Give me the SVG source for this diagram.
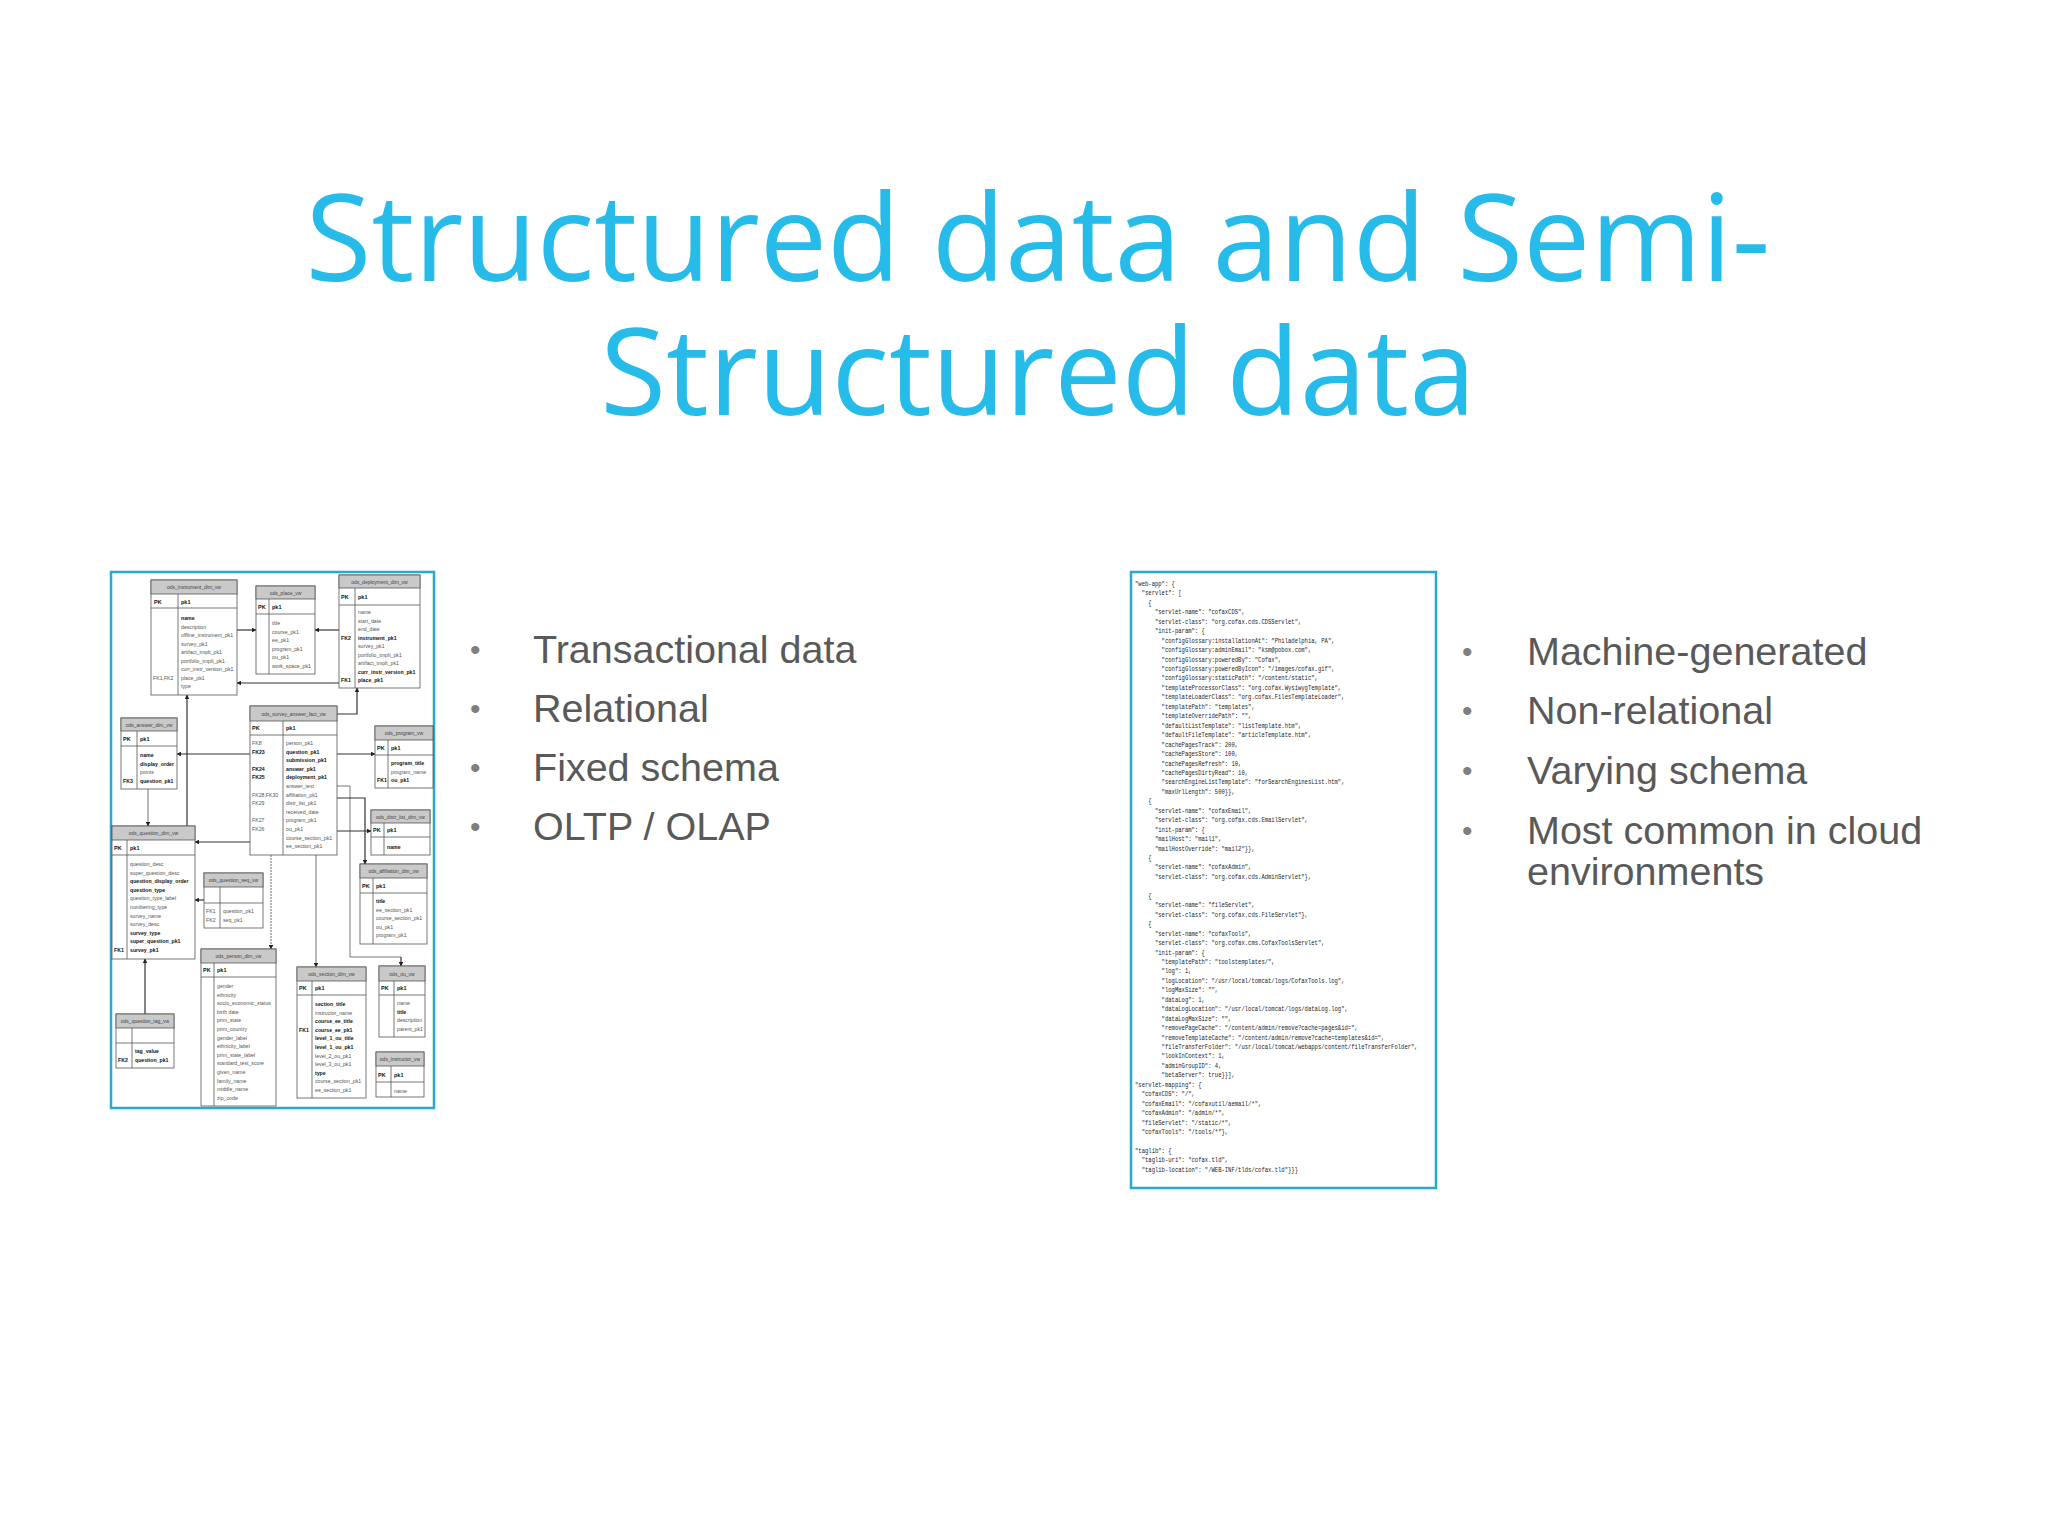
<svg xmlns="http://www.w3.org/2000/svg" width="2048" height="1536" viewBox="0 0 2048 1536">
<style>
.title{font-family:"Open Sans","Liberation Sans",sans-serif;font-size:120px;fill:#27bbe9;text-anchor:middle}
.bul{font-family:"Liberation Sans",Arial,sans-serif;font-size:39.5px;fill:#595959}
.dot{font-family:"Liberation Sans",Arial,sans-serif;font-size:30px;fill:#7f7f7f}
.frame{fill:#fff;stroke:#27a9d0;stroke-width:2.5}
.tb{fill:#fff;stroke:#555;stroke-width:0.8}
.th{fill:#c9c9c9;stroke:#555;stroke-width:0.8}
.ln{stroke:#555;stroke-width:0.8;fill:none}
.hd{font-family:"Liberation Sans",Arial,sans-serif;font-size:5px;fill:#444;text-anchor:middle}
.f{font-family:"Liberation Sans",Arial,sans-serif;font-size:5.2px;fill:#555}
.b{font-weight:bold;fill:#111}
.pk{font-family:"Liberation Sans",Arial,sans-serif;font-size:5.5px;font-weight:bold;fill:#111}
.c{stroke:#333;stroke-width:1.2;fill:none;marker-end:url(#ah)}
.cg{stroke:#888;stroke-width:1.2;fill:none;marker-end:url(#ah)}
.js{font-family:"Liberation Mono","DejaVu Sans Mono",monospace;font-size:7.4px;fill:#222}
</style>
<defs>
<marker id="ah" viewBox="0 0 10 10" refX="9" refY="5" markerWidth="4" markerHeight="4" orient="auto"><path d="M0,0L10,5L0,10z" fill="#222"/></marker>
</defs>
<rect width="2048" height="1536" fill="#fff"/>
<text class="title" x="1038" y="281">Structured data and Semi-</text>
<text class="title" x="1038" y="415">Structured data</text>

<g id="bullets-left">
<text class="dot" x="470" y="660">•</text><text class="bul" x="533" y="663">Transactional data</text>
<text class="dot" x="470" y="719">•</text><text class="bul" x="533" y="722">Relational</text>
<text class="dot" x="470" y="778">•</text><text class="bul" x="533" y="781">Fixed schema</text>
<text class="dot" x="470" y="837">•</text><text class="bul" x="533" y="840">OLTP / OLAP</text>
</g>
<g id="bullets-right">
<text class="dot" x="1462" y="662">•</text><text class="bul" x="1527" y="665">Machine-generated</text>
<text class="dot" x="1462" y="721">•</text><text class="bul" x="1527" y="724">Non-relational</text>
<text class="dot" x="1462" y="781">•</text><text class="bul" x="1527" y="784">Varying schema</text>
<text class="dot" x="1462" y="841">•</text><text class="bul" x="1527" y="844">Most common in cloud</text>
<text class="bul" x="1527" y="885">environments</text>
</g>

<g id="er-diagram">
<rect class="frame" x="111" y="572" width="323" height="536"/>
<g id="connectors">
<path class="c" d="M237,630H256"/>
<path class="c" d="M339,630H315"/>
<path class="c" d="M339,683H237"/>
<path class="c" d="M337,714H357V688"/>
<path class="c" d="M250,754H177"/>
<path class="c" d="M187,826V695"/>
<path class="c" d="M337,754H375"/>
<path class="cg" d="M148,789V826"/>
<path class="c" d="M250,842H195"/>
<path class="ln" d="M337,786H350V957H401"/><path class="c" d="M401,957V966"/>
<path class="c" d="M337,798H365V864"/>
<path class="c" d="M337,831H371"/>
<path class="cg" d="M271,855V949" stroke-dasharray="2,1"/>
<path class="cg" d="M316,855V967"/>
<path class="c" d="M204,900H195"/>
<path class="c" d="M145,1014V959"/>
</g>

<g id="t-instrument">
<rect class="tb" x="151" y="580" width="86" height="115"/><rect class="th" x="151" y="580" width="86" height="14"/>
<text class="hd" x="194" y="589">ods_instrument_dim_vw</text>
<path class="ln" d="M151,608H237M178,594V695"/>
<text class="pk" x="154" y="604">PK</text><text class="pk" x="181" y="604">pk1</text>
<text class="f" x="181" y="620"><tspan class="b">name</tspan><tspan x="181" dy="8.5">description</tspan><tspan x="181" dy="8.5">offline_instrument_pk1</tspan><tspan x="181" dy="8.5">survey_pk1</tspan><tspan x="181" dy="8.5">artifact_tmplt_pk1</tspan><tspan x="181" dy="8.5">portfolio_tmplt_pk1</tspan><tspan x="181" dy="8.5">curr_instr_version_pk1</tspan><tspan x="181" dy="8.5">place_pk1</tspan><tspan x="181" dy="8.5">type</tspan></text>
<text class="f" x="153" y="679.5">FK1,FK2</text>
</g>
<g id="t-place">
<rect class="tb" x="256" y="586" width="59" height="88"/><rect class="th" x="256" y="586" width="59" height="13"/>
<text class="hd" x="285.5" y="594.5">ods_place_vw</text>
<path class="ln" d="M256,614H315M269,599V674"/>
<text class="pk" x="258" y="609">PK</text><text class="pk" x="272" y="609">pk1</text>
<text class="f" x="272" y="625">title<tspan x="272" dy="8.5">course_pk1</tspan><tspan x="272" dy="8.5">ee_pk1</tspan><tspan x="272" dy="8.5">program_pk1</tspan><tspan x="272" dy="8.5">ou_pk1</tspan><tspan x="272" dy="8.5">work_space_pk1</tspan></text>
</g>
<g id="t-deployment">
<rect class="tb" x="339" y="575" width="81" height="113"/><rect class="th" x="339" y="575" width="81" height="13"/>
<text class="hd" x="379.5" y="583.5">ods_deployment_dim_vw</text>
<path class="ln" d="M339,605H420M355,588V688"/>
<text class="pk" x="341" y="599">PK</text><text class="pk" x="358" y="599">pk1</text>
<text class="f" x="358" y="614">name<tspan x="358" dy="8.5">start_date</tspan><tspan x="358" dy="8.5">end_date</tspan><tspan x="358" dy="8.5" class="b">instrument_pk1</tspan><tspan x="358" dy="8.5">survey_pk1</tspan><tspan x="358" dy="8.5">portfolio_tmplt_pk1</tspan><tspan x="358" dy="8.5">artifact_tmplt_pk1</tspan><tspan x="358" dy="8.5" class="b">curr_instr_version_pk1</tspan><tspan x="358" dy="8.5" class="b">place_pk1</tspan></text>
<text class="f b" x="341" y="639.5">FK2</text><text class="f b" x="341" y="682">FK1</text>
</g>
<g id="t-answer">
<rect class="tb" x="121" y="718" width="56" height="71"/><rect class="th" x="121" y="718" width="56" height="13"/>
<text class="hd" x="149" y="726.5">ods_answer_dim_vw</text>
<path class="ln" d="M121,746H177M137,731V789"/>
<text class="pk" x="123" y="741">PK</text><text class="pk" x="140" y="741">pk1</text>
<text class="f" x="140" y="757"><tspan class="b">name</tspan><tspan x="140" dy="8.5" class="b">display_order</tspan><tspan x="140" dy="8.5">points</tspan><tspan x="140" dy="8.5" class="b">question_pk1</tspan></text>
<text class="f b" x="123" y="782.5">FK3</text>
</g>
<g id="t-fact">
<rect class="tb" x="250" y="706" width="87" height="149"/><rect class="th" x="250" y="706" width="87" height="15"/>
<text class="hd" x="293.5" y="715.5">ods_survey_answer_fact_vw</text>
<path class="ln" d="M250,735H337M283,721V855"/>
<text class="pk" x="252" y="730">PK</text><text class="pk" x="286" y="730">pk1</text>
<text class="f" x="286" y="745">person_pk1<tspan x="286" dy="8.6" class="b">question_pk1</tspan><tspan x="286" dy="8.6" class="b">submission_pk1</tspan><tspan x="286" dy="8.6" class="b">answer_pk1</tspan><tspan x="286" dy="8.6" class="b">deployment_pk1</tspan><tspan x="286" dy="8.6">answer_text</tspan><tspan x="286" dy="8.6">affiliation_pk1</tspan><tspan x="286" dy="8.6">distr_list_pk1</tspan><tspan x="286" dy="8.6">received_date</tspan><tspan x="286" dy="8.6">program_pk1</tspan><tspan x="286" dy="8.6">ou_pk1</tspan><tspan x="286" dy="8.6">course_section_pk1</tspan><tspan x="286" dy="8.6">ee_section_pk1</tspan></text>
<text class="f" x="252" y="745">FK8<tspan x="252" dy="8.6" class="b">FK23</tspan><tspan x="252" dy="17.2" class="b">FK24</tspan><tspan x="252" dy="8.6" class="b">FK25</tspan><tspan x="252" dy="17.2">FK28,FK30</tspan><tspan x="252" dy="8.6">FK29</tspan><tspan x="252" dy="17.2">FK27</tspan><tspan x="252" dy="8.6">FK26</tspan></text>
</g>
<g id="t-program">
<rect class="tb" x="375" y="726" width="58" height="62"/><rect class="th" x="375" y="726" width="58" height="14"/>
<text class="hd" x="404" y="735">ods_program_vw</text>
<path class="ln" d="M375,755H433M388,740V788"/>
<text class="pk" x="377" y="750">PK</text><text class="pk" x="391" y="750">pk1</text>
<text class="f" x="391" y="765"><tspan class="b">program_title</tspan><tspan x="391" dy="8.5">program_name</tspan><tspan x="391" dy="8.5" class="b">ou_pk1</tspan></text>
<text class="f b" x="377" y="782">FK1</text>
</g>
<g id="t-distr">
<rect class="tb" x="371" y="810" width="59" height="45"/><rect class="th" x="371" y="810" width="59" height="13"/>
<text class="hd" x="400.5" y="818.5">ods_distr_list_dim_vw</text>
<path class="ln" d="M371,837H430M384,823V855"/>
<text class="pk" x="373" y="832">PK</text><text class="pk" x="387" y="832">pk1</text>
<text class="f b" x="387" y="849">name</text>
</g>
<g id="t-question">
<rect class="tb" x="112" y="826" width="83" height="133"/><rect class="th" x="112" y="826" width="83" height="14"/>
<text class="hd" x="153.5" y="835">ods_question_dim_vw</text>
<path class="ln" d="M112,855H195M127,840V959"/>
<text class="pk" x="114" y="850">PK</text><text class="pk" x="130" y="850">pk1</text>
<text class="f" x="130" y="866">question_desc<tspan x="130" dy="8.6">super_question_desc</tspan><tspan x="130" dy="8.6" class="b">question_display_order</tspan><tspan x="130" dy="8.6" class="b">question_type</tspan><tspan x="130" dy="8.6">question_type_label</tspan><tspan x="130" dy="8.6">numbering_type</tspan><tspan x="130" dy="8.6">survey_name</tspan><tspan x="130" dy="8.6">survey_desc</tspan><tspan x="130" dy="8.6" class="b">survey_type</tspan><tspan x="130" dy="8.6" class="b">super_question_pk1</tspan><tspan x="130" dy="8.6" class="b">survey_pk1</tspan></text>
<text class="f b" x="114" y="952">FK1</text>
</g>
<g id="t-seq">
<rect class="tb" x="204" y="873" width="59" height="55"/><rect class="th" x="204" y="873" width="59" height="14"/>
<text class="hd" x="233.5" y="882">ods_question_seq_vw</text>
<path class="ln" d="M204,903H263M220,887V928"/>
<text class="f" x="206" y="913">FK1<tspan x="206" dy="8.5">FK2</tspan></text>
<text class="f" x="223" y="913">question_pk1<tspan x="223" dy="8.5">seq_pk1</tspan></text>
</g>
<g id="t-affiliation">
<rect class="tb" x="360" y="864" width="67" height="80"/><rect class="th" x="360" y="864" width="67" height="14"/>
<text class="hd" x="393.5" y="873">ods_affiliation_dim_vw</text>
<path class="ln" d="M360,893H427M373,878V944"/>
<text class="pk" x="362" y="888">PK</text><text class="pk" x="376" y="888">pk1</text>
<text class="f" x="376" y="903"><tspan class="b">title</tspan><tspan x="376" dy="8.5">ee_section_pk1</tspan><tspan x="376" dy="8.5">course_section_pk1</tspan><tspan x="376" dy="8.5">ou_pk1</tspan><tspan x="376" dy="8.5">program_pk1</tspan></text>
</g>
<g id="t-person">
<rect class="tb" x="201" y="949" width="75" height="157"/><rect class="th" x="201" y="949" width="75" height="14"/>
<text class="hd" x="238.5" y="958">ods_person_dim_vw</text>
<path class="ln" d="M201,977H276M214,963V1106"/>
<text class="pk" x="203" y="972">PK</text><text class="pk" x="217" y="972">pk1</text>
<text class="f" x="217" y="988">gender<tspan x="217" dy="8.6">ethnicity</tspan><tspan x="217" dy="8.6">socio_economic_status</tspan><tspan x="217" dy="8.6">birth date</tspan><tspan x="217" dy="8.6">prim_state</tspan><tspan x="217" dy="8.6">prim_country</tspan><tspan x="217" dy="8.6">gender_label</tspan><tspan x="217" dy="8.6">ethnicity_label</tspan><tspan x="217" dy="8.6">prim_state_label</tspan><tspan x="217" dy="8.6">standard_test_score</tspan><tspan x="217" dy="8.6">given_name</tspan><tspan x="217" dy="8.6">family_name</tspan><tspan x="217" dy="8.6">middle_name</tspan><tspan x="217" dy="8.6">zip_code</tspan></text>
</g>
<g id="t-section">
<rect class="tb" x="297" y="967" width="69" height="131"/><rect class="th" x="297" y="967" width="69" height="14"/>
<text class="hd" x="331.5" y="976">ods_section_dim_vw</text>
<path class="ln" d="M297,995H366M312,981V1098"/>
<text class="pk" x="299" y="990">PK</text><text class="pk" x="315" y="990">pk1</text>
<text class="f" x="315" y="1006"><tspan class="b">section_title</tspan><tspan x="315" dy="8.6">instructor_name</tspan><tspan x="315" dy="8.6" class="b">course_ee_title</tspan><tspan x="315" dy="8.6" class="b">course_ee_pk1</tspan><tspan x="315" dy="8.6" class="b">level_1_ou_title</tspan><tspan x="315" dy="8.6" class="b">level_1_ou_pk1</tspan><tspan x="315" dy="8.6">level_2_ou_pk1</tspan><tspan x="315" dy="8.6">level_3_ou_pk1</tspan><tspan x="315" dy="8.6" class="b">type</tspan><tspan x="315" dy="8.6">course_section_pk1</tspan><tspan x="315" dy="8.6">ee_section_pk1</tspan></text>
<text class="f b" x="299" y="1031.8">FK1</text>
</g>
<g id="t-ou">
<rect class="tb" x="379" y="966" width="46" height="71"/><rect class="th" x="379" y="966" width="46" height="15"/>
<text class="hd" x="402" y="976">ods_ou_vw</text>
<path class="ln" d="M379,995H425M394,981V1037"/>
<text class="pk" x="381" y="990">PK</text><text class="pk" x="397" y="990">pk1</text>
<text class="f" x="397" y="1005">name<tspan x="397" dy="8.5" class="b">title</tspan><tspan x="397" dy="8.5">description</tspan><tspan x="397" dy="8.5">parent_pk1</tspan></text>
</g>
<g id="t-tag">
<rect class="tb" x="116" y="1014" width="58" height="54"/><rect class="th" x="116" y="1014" width="58" height="14"/>
<text class="hd" x="145" y="1023">ods_question_tag_vw</text>
<path class="ln" d="M116,1043H174M132,1028V1068"/>
<text class="f b" x="135" y="1053">tag_value<tspan x="135" dy="8.5">question_pk1</tspan></text>
<text class="f b" x="118" y="1061.5">FK2</text>
</g>
<g id="t-instructor">
<rect class="tb" x="376" y="1052" width="48" height="45"/><rect class="th" x="376" y="1052" width="48" height="14"/>
<text class="hd" x="400" y="1061">ods_instructor_vw</text>
<path class="ln" d="M376,1082H424M391,1066V1097"/>
<text class="pk" x="378" y="1077">PK</text><text class="pk" x="394" y="1077">pk1</text>
<text class="f" x="394" y="1093">name</text>
</g>
</g>

<g id="json">
<rect class="frame" x="1131" y="572" width="305" height="616"/>
<g transform="matrix(0.75 0 0 1 1135 586)">
<text class="js" x="0" y="0" xml:space="preserve"><tspan x="0" dy="0">"web-app": {</tspan><tspan x="0" dy="9.45">  "servlet": [</tspan><tspan x="0" dy="9.45">    {</tspan><tspan x="0" dy="9.45">      "servlet-name": "cofaxCDS",</tspan><tspan x="0" dy="9.45">      "servlet-class": "org.cofax.cds.CDSServlet",</tspan><tspan x="0" dy="9.45">      "init-param": {</tspan><tspan x="0" dy="9.45">        "configGlossary:installationAt": "Philadelphia, PA",</tspan><tspan x="0" dy="9.45">        "configGlossary:adminEmail": "ksm@pobox.com",</tspan><tspan x="0" dy="9.45">        "configGlossary:poweredBy": "Cofax",</tspan><tspan x="0" dy="9.45">        "configGlossary:poweredByIcon": "/images/cofax.gif",</tspan><tspan x="0" dy="9.45">        "configGlossary:staticPath": "/content/static",</tspan><tspan x="0" dy="9.45">        "templateProcessorClass": "org.cofax.WysiwygTemplate",</tspan><tspan x="0" dy="9.45">        "templateLoaderClass": "org.cofax.FilesTemplateLoader",</tspan><tspan x="0" dy="9.45">        "templatePath": "templates",</tspan><tspan x="0" dy="9.45">        "templateOverridePath": "",</tspan><tspan x="0" dy="9.45">        "defaultListTemplate": "listTemplate.htm",</tspan><tspan x="0" dy="9.45">        "defaultFileTemplate": "articleTemplate.htm",</tspan><tspan x="0" dy="9.45">        "cachePagesTrack": 200,</tspan><tspan x="0" dy="9.45">        "cachePagesStore": 100,</tspan><tspan x="0" dy="9.45">        "cachePagesRefresh": 10,</tspan><tspan x="0" dy="9.45">        "cachePagesDirtyRead": 10,</tspan><tspan x="0" dy="9.45">        "searchEngineListTemplate": "forSearchEnginesList.htm",</tspan><tspan x="0" dy="9.45">        "maxUrlLength": 500}},</tspan><tspan x="0" dy="9.45">    {</tspan><tspan x="0" dy="9.45">      "servlet-name": "cofaxEmail",</tspan><tspan x="0" dy="9.45">      "servlet-class": "org.cofax.cds.EmailServlet",</tspan><tspan x="0" dy="9.45">      "init-param": {</tspan><tspan x="0" dy="9.45">      "mailHost": "mail1",</tspan><tspan x="0" dy="9.45">      "mailHostOverride": "mail2"}},</tspan><tspan x="0" dy="9.45">    {</tspan><tspan x="0" dy="9.45">      "servlet-name": "cofaxAdmin",</tspan><tspan x="0" dy="9.45">      "servlet-class": "org.cofax.cds.AdminServlet"},</tspan><tspan x="0" dy="18.9">    {</tspan><tspan x="0" dy="9.45">      "servlet-name": "fileServlet",</tspan><tspan x="0" dy="9.45">      "servlet-class": "org.cofax.cds.FileServlet"},</tspan><tspan x="0" dy="9.45">    {</tspan><tspan x="0" dy="9.45">      "servlet-name": "cofaxTools",</tspan><tspan x="0" dy="9.45">      "servlet-class": "org.cofax.cms.CofaxToolsServlet",</tspan><tspan x="0" dy="9.45">      "init-param": {</tspan><tspan x="0" dy="9.45">        "templatePath": "toolstemplates/",</tspan><tspan x="0" dy="9.45">        "log": 1,</tspan><tspan x="0" dy="9.45">        "logLocation": "/usr/local/tomcat/logs/CofaxTools.log",</tspan><tspan x="0" dy="9.45">        "logMaxSize": "",</tspan><tspan x="0" dy="9.45">        "dataLog": 1,</tspan><tspan x="0" dy="9.45">        "dataLogLocation": "/usr/local/tomcat/logs/dataLog.log",</tspan><tspan x="0" dy="9.45">        "dataLogMaxSize": "",</tspan><tspan x="0" dy="9.45">        "removePageCache": "/content/admin/remove?cache=pages&amp;id=",</tspan><tspan x="0" dy="9.45">        "removeTemplateCache": "/content/admin/remove?cache=templates&amp;id=",</tspan><tspan x="0" dy="9.45">        "fileTransferFolder": "/usr/local/tomcat/webapps/content/fileTransferFolder",</tspan><tspan x="0" dy="9.45">        "lookInContext": 1,</tspan><tspan x="0" dy="9.45">        "adminGroupID": 4,</tspan><tspan x="0" dy="9.45">        "betaServer": true}}],</tspan><tspan x="0" dy="9.45">"servlet-mapping": {</tspan><tspan x="0" dy="9.45">  "cofaxCDS": "/",</tspan><tspan x="0" dy="9.45">  "cofaxEmail": "/cofaxutil/aemail/*",</tspan><tspan x="0" dy="9.45">  "cofaxAdmin": "/admin/*",</tspan><tspan x="0" dy="9.45">  "fileServlet": "/static/*",</tspan><tspan x="0" dy="9.45">  "cofaxTools": "/tools/*"},</tspan><tspan x="0" dy="18.9">"taglib": {</tspan><tspan x="0" dy="9.45">  "taglib-uri": "cofax.tld",</tspan><tspan x="0" dy="9.45">  "taglib-location": "/WEB-INF/tlds/cofax.tld"}}}</tspan></text>
</g>
</g>
</svg>
